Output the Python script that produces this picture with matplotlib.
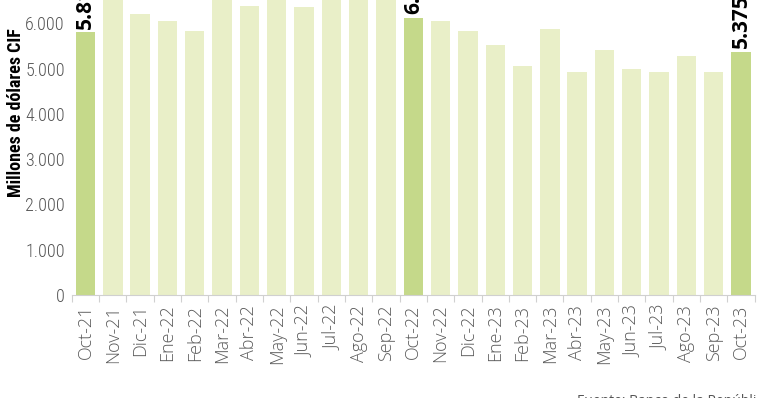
import matplotlib
matplotlib.use("Agg")
import matplotlib.pyplot as plt
from matplotlib import font_manager

# Importaciones mensuales (millones de dólares CIF)
meses = ["Oct-21", "Nov-21", "Dic-21", "Ene-22", "Feb-22", "Mar-22", "Abr-22",
         "May-22", "Jun-22", "Jul-22", "Ago-22", "Sep-22", "Oct-22", "Nov-22",
         "Dic-22", "Ene-23", "Feb-23", "Mar-23", "Abr-23", "May-23", "Jun-23",
         "Jul-23", "Ago-23", "Sep-23", "Oct-23"]
valores = [5812, 6900, 6200, 6050, 5830, 7000, 6390, 7100, 6360, 6800, 7300,
           6900, 6125, 6050, 5830, 5520, 5060, 5870, 4930, 5410, 5000, 4930,
           5280, 4930, 5375]
destacados = ["Oct-21", "Oct-22", "Oct-23"]
fuente = "Fuente: Banco de la República; DANE"

color_claro = "#e9efc8"
color_fuerte = "#c5d98a"
gris = "#555555"

# buscar una fuente condensada si la hay
nombres = {f.name for f in font_manager.fontManager.ttflist}
condensada = None
for cand in ["Liberation Sans Narrow", "Roboto Condensed", "Open Sans Condensed",
             "DejaVu Sans Condensed", "Noto Sans Condensed"]:
    if cand in nombres:
        condensada = dict(family=[cand, "DejaVu Sans"])
        break
if condensada is None:
    cond = [f for f in font_manager.fontManager.ttflist
            if "ondensed" in f.fname or f.stretch in ("condensed", 300)]
    if cond:
        condensada = dict(fname=cond[0].fname)
if condensada is None:
    condensada = dict(family=["Liberation Sans", "DejaVu Sans"])


def fuente_cond(size, weight="normal"):
    if "fname" in condensada:
        return font_manager.FontProperties(fname=condensada["fname"], size=size, weight=weight)
    return font_manager.FontProperties(family=condensada["family"], size=size,
                                       weight=weight, stretch="condensed")


fig = plt.figure(figsize=(7.58, 3.98), dpi=100)
ax = fig.add_axes([0.0948, 0.2588, 0.9008, 0.7965])

x = list(range(len(meses)))
colores = [color_fuerte if m in destacados else color_claro for m in meses]
ax.bar(x, valores, width=0.71, color=colores, zorder=2)

for i, (m, v) in enumerate(zip(meses, valores)):
    if m in destacados:
        ax.text(i, v + 70, f"{v:,}".replace(",", "."), rotation=90,
                ha="center", va="bottom", fontsize=15, fontweight="bold",
                family=["Open Sans", "DejaVu Sans"], color="black")

ax.set_xlim(-0.5, len(meses) - 0.5)
ax.set_ylim(0, 7000)
ax.set_yticks(range(0, 7000, 1000))
ax.set_yticklabels([f"{t:,}".replace(",", ".") for t in range(0, 7000, 1000)],
                   fontproperties=fuente_cond(13, "light"), color=gris)
ax.tick_params(axis="y", length=0, pad=5)

ax.set_xticks(x)
ax.set_xticklabels(meses, rotation=90, family=["Open Sans", "DejaVu Sans"],
                   fontsize=13, fontweight="light", color="#5a5a5a")
ax.set_xticks([i - 0.5 for i in range(len(meses) + 1)], minor=True)
ax.tick_params(axis="x", which="major", length=0, pad=7)
ax.tick_params(axis="x", which="minor", length=5, color="#d0d0d0", width=0.8)

for lado in ["top", "right", "left"]:
    ax.spines[lado].set_visible(False)
ax.spines["bottom"].set_color("#d0d0d0")
ax.spines["bottom"].set_linewidth(0.8)

ax.set_ylabel("Millones de dólares CIF", fontproperties=fuente_cond(13, "bold"),
              color="black")
ax.yaxis.set_label_coords(-0.068, 0.574)

fig.text(0.761, 0.010, fuente, fontsize=10, color=gris, va="top",
         family=["Open Sans", "DejaVu Sans"])

fig.savefig("out.png", dpi=100)
